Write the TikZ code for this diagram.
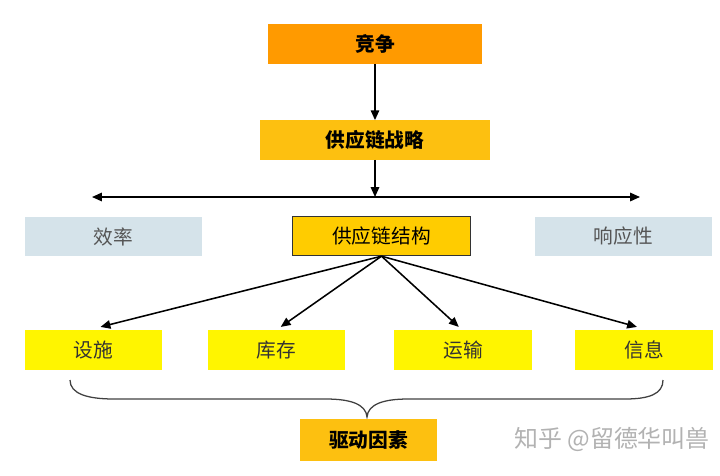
\documentclass[tikz,border=0pt]{standalone}
\usepackage{fontspec}
\setmainfont{Noto Sans CJK SC}
\usepackage{tikz}
\usetikzlibrary{arrows.meta,positioning}
\definecolor{compor}{HTML}{FF9A00}
\definecolor{stratgold}{HTML}{FDC010}
\definecolor{structy}{HTML}{FFCC00}
\definecolor{drivey}{HTML}{FFF500}
\definecolor{tradebl}{HTML}{D5E3EA}
\definecolor{tradetx}{HTML}{555555}

\begin{document}
\begin{tikzpicture}[
      x=0.025cm, y=-0.025cm,
      box/.style    = {minimum height=0.98cm, align=center,
                       font=\fontsize{14}{16}\selectfont, inner sep=0pt},
      topbox/.style = {box, fill=compor, minimum width=5.35cm, font=\fontsize{14}{16}\selectfont\bfseries},
      strbox/.style = {box, fill=stratgold, minimum width=5.75cm, font=\fontsize{14}{16}\selectfont\bfseries},
      trade/.style  = {box, fill=tradebl, text=tradetx, minimum width=4.43cm},
      midbox/.style = {box, fill=structy, draw=black!80, line width=0.8pt, minimum width=4.43cm},
      drv/.style    = {box, fill=drivey, text=black!80, minimum width=3.43cm, minimum height=1.0cm},
      arr/.style    = {-{Triangle[length=7pt,width=6pt]}, line width=1.1pt},
      brc/.style    = {line width=0.9pt, black!75},
      wm/.style     = {font=\fontsize{17}{19}\selectfont, text=black!30},
    ]
    \useasboundingbox (0,0) rectangle (720,475);

    % ---- strategy column ----
    \node[topbox] (comp)  at (375,44)  {竞争};
    \node[strbox] (strat) at (375,140) {供应链战略};
    \draw[arr] (comp) -- (strat);

    % ---- trade-off line ----
    \coordinate (tl) at (92,197);
    \coordinate (tr) at (640,197);
    \draw[arr, {Triangle[length=7pt,width=6pt]}-{Triangle[length=7pt,width=6pt]}] (tl) -- (tr);
    \draw[arr] (strat.south) -- (strat.south |- tl);

    \node[trade]  (eff)    at (113.5,236.5) {效率};
    \node[midbox] (struct) at (381.5,236)   {供应链结构};
    \node[trade]  (resp)   at (623.5,236.5) {响应性};

    % ---- drivers row ----
    \node[drv] (fac)   at (93.5,350)  {设施};
    \node[drv] (inv)   at (276.5,350) {库存};
    \node[drv] (trans) at (463,350)   {运输};
    \node[drv] (info)  at (644,350)   {信息};

    \draw[arr] (struct.south) -- ([xshift=5pt,yshift=2pt]fac.north);
    \draw[arr] (struct.south) -- ([xshift=3pt,yshift=2pt]inv.north);
    \draw[arr] (struct.south) -- ([xshift=-3pt,yshift=2pt]trans.north);
    \draw[arr] (struct.south) -- ([xshift=-5pt,yshift=2pt]info.north);

    % brace + label
    \draw[brc] (70,380) .. controls (70,394) and (88,399) .. (114,399) -- (326,399)
       .. controls (350,399) and (366,404) .. (367,417)
       .. controls (368,404) and (384,399) .. (408,399) -- (625,399)
       .. controls (649,399) and (663,394) .. (663,380);
    \node[strbox, minimum width=3.43cm, minimum height=1.05cm] (drive) at (368.5,440) {驱动因素};

    \node[wm] (mark) at (612,439) {知乎 @留德华叫兽};
\end{tikzpicture}
\end{document}
